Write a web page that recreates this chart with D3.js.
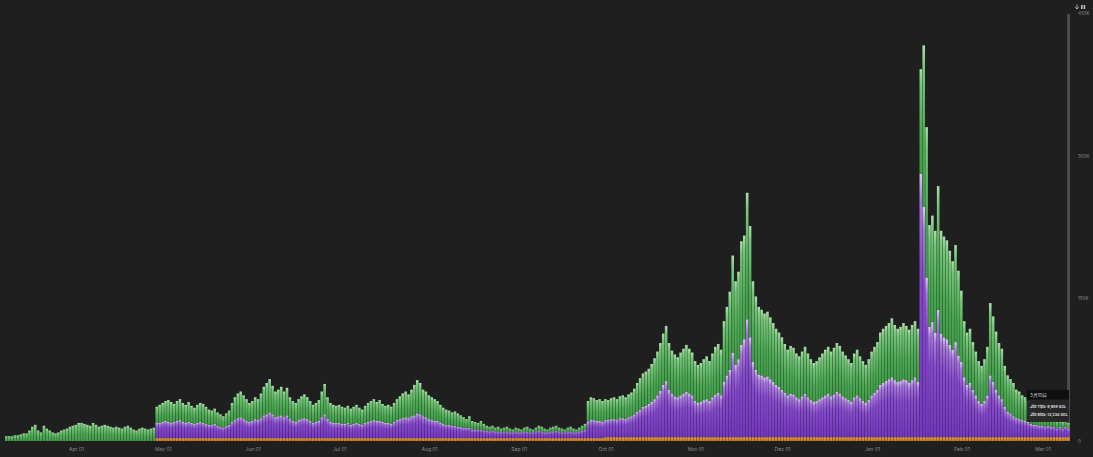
<!DOCTYPE html>
<html><head><meta charset="utf-8">
<script src="https://cdn.jsdelivr.net/npm/d3@7"></script>
<style>html,body{margin:0;padding:0;background:#1f1f1f;overflow:hidden}text{font-family:Inter,"Noto Sans",sans-serif}</style>
</head><body><svg id="c" width="1093" height="457"></svg>
<script>
const startDate = "2024-03-08";
const dayCount = 368;
const monthTicks = ["2024-04-01","2024-05-01","2024-06-01","2024-07-01","2024-08-01","2024-09-01","2024-10-01","2024-11-01","2024-12-01","2025-01-01","2025-02-01","2025-03-01"];
const yTicks = [0, 150, 300, 450];

// top layer (green)
const jitoTips = [
5,5,5,6,6,7,8,8,11,15,17,11,9,16,13,11,9,8,9,11,12,13,15,16,17,19,19,18,17,16,19,17,15,16,17,16,15,14,15,14,13,15,16,14,12,11,13,14,13,12,13,14,
17,
19,20,21,23,22,19,21,22,20,19,21,18,17,19,20,20,18,16,15,16,14,13,12,13,15,20,24,26,27,25,23,20,
21,23,22,26,30,33,35,30,27,28,30,27,29,23,21,20,22,24,25,23,21,19,20,22,27,32,23,20,19,18,
19,18,17,18,17,18,19,17,16,18,20,21,22,20,22,19,18,19,18,20,22,24,26,27,25,28,32,35,33,28,27,
25,24,23,21,19,17,16,15,14,15,14,12,11,9,12,9,8,7,9,7,5,5,5,4,5,4,4,5,4,3,4,
4,3,4,5,4,3,4,5,5,4,3,4,5,5,4,4,3,4,5,4,3,4,5,6,22,24,23,22,23,22,
22,21,22,23,22,23,24,23,24,25,27,30,33,35,36,37,40,43,46,50,54,58,49,45,44,42,45,47,49,47,45,
42,40,41,43,45,42,46,50,51,48,64,72,82,102,88,92,109,109,133,117,85,77,71,69,67,68,65,62,59,57,
55,51,48,50,49,46,45,47,49,46,43,41,42,44,46,48,49,47,49,51,50,47,45,43,41,46,48,44,42,40,43,
46,48,50,55,57,58,59,62,58,56,57,59,57,56,58,59,56,110,170,158,107,112,107,130,108,106,104,99,93,102,89,
75,59,55,57,50,46,42,40,44,51,76,69,61,55,53,43,38,36,35,30,29,26,25,22,18,15,13,13,
12,11,11,8,9,8,8,7,7,6
];
// middle layer (purple)
const priorityFees = [
0,0,0,0,0,0,0,0,0,0,0,0,0,
0,0,0,0,0,0,0,0,0,0,0,0,0,
0,0,0,0,0,0,0,0,0,0,0,0,0,
0,0,0,0,0,0,0,0,0,0,0,0,0,
16,
16,17,18,17,16,17,18,19,17,16,17,16,15,16,17,16,15,14,14,15,13,12,11,13,14,17,19,21,22,20,18,17,
18,20,19,21,24,25,27,25,22,23,24,22,24,20,18,17,19,20,21,20,18,16,17,18,22,25,20,17,16,16,
16,15,15,16,14,15,16,15,14,16,17,18,19,18,18,17,16,16,15,17,19,20,21,22,21,23,24,26,25,23,22,
20,19,18,18,16,15,14,14,13,13,12,12,11,11,11,9,9,9,9,8,8,7,8,7,7,6,7,7,6,6,7,
6,6,7,7,6,6,7,8,7,6,6,7,7,8,7,6,6,7,7,6,6,7,8,9,17,19,19,18,18,17,
18,18,19,19,18,20,20,19,21,22,24,27,29,32,33,35,37,40,44,49,55,59,50,46,43,42,44,46,48,46,44,
38,36,37,39,40,38,42,45,47,44,58,65,71,89,76,82,97,103,124,105,79,71,66,65,63,64,61,58,55,53,
50,47,44,46,45,42,40,43,46,42,39,37,38,40,42,44,46,43,45,48,46,43,41,39,37,42,44,41,38,36,39,
44,47,50,55,57,59,61,63,60,58,59,61,60,57,60,63,58,277,242,168,116,121,110,134,109,105,103,97,92,100,86,
79,63,55,57,50,44,38,35,38,44,65,58,50,44,40,32,27,25,22,20,19,18,17,16,14,13,13,12,
12,11,12,11,11,9,11,9,11,9
];
// bottom layer (orange)
const baseFees = [
0,0,0,0,0,0,0,0,0,0,0,0,0,
0,0,0,0,0,0,0,0,0,0,0,0,0,
0,0,0,0,0,0,0,0,0,0,0,0,0,
0,0,0,0,0,0,0,0,0,0,0,0,0,
3,3,3,3,3,3,3,3,3,3,
3,3,3,3,3,3,3,3,3,3,
3,3,3,3,3,3,3,3,3,3,
3,3,3,3,3,3,3,3,3,3,
3,3,3,3,3,3,3,3,3,3,
3,3,3,3,3,3,3,3,3,3,
3,3,3,3,3,3,3,3,3,3,
3,3,3,3,3,3,3,3,3,3,
3,3,3,3,3,3,3,3,3,3,
3,3,3,3,3,3,3,3,3,3,
3,3,3,3,3,3,3,3,3,3,
3,3,3,3,3,3,3,3,3,3,
3,3,3,3,3,3,3,3,3,3,
3,3,3,3,3,3,3,3,3,3,
3,3,3,3,3,3,3,3,3,3,
3,3,3,3,3,
4,4,4,4,4,4,4,4,4,4,
4,4,4,4,4,4,4,4,4,4,
4,4,4,4,4,4,4,4,4,4,
4,4,4,4,4,4,4,4,4,4,
4,4,4,4,4,4,4,4,4,4,
4,4,4,4,4,4,4,4,4,4,
4,4,4,4,4,4,4,4,4,4,
4,4,4,4,4,4,4,4,4,4,
4,4,4,4,4,4,4,4,4,4,
4,4,4,4,4,4,4,4,4,4,
4,4,4,4,4,4,4,4,4,4,
4,4,4,4,4,4,4,4,4,4,
4,4,4,4,4,4,4,4,4,4,
4,4,4,4,4,4,4,4,4,4,
4,4,4,4,4,4,4,4,4,4,
4,4,4,4,4,4,4,4,4,4,
4
];
const tooltipTitle = "3月10日";
const tooltipLines = ["Jito Tips: 9,908 SOL", "Jito Bids: 13,234 SOL"];

const svg = d3.select("#c");
const W = 1093, H = 457;
svg.append("rect").attr("width", W).attr("height", H).attr("fill", "#1f1f1f");

const parse = d3.utcParse("%Y-%m-%d");
const t0 = parse(startDate);
const t1 = d3.utcDay.offset(t0, dayCount);
const days = d3.utcDays(t0, t1);
const rows = days.map((d, i) => ({date: d, base: baseFees[i], prio: priorityFees[i], tips: jitoTips[i]}));

const x = d3.scaleUtc().domain([t0, t1]).range([5, 1070]);
const y = d3.scaleLinear().domain([0, 450]).range([441, 13]);

const defs = svg.append("defs");
function grad(id, stops) {
  const g = defs.append("linearGradient").attr("id", id).attr("x1", 0).attr("y1", 0).attr("x2", 0).attr("y2", 1);
  stops.forEach(s => g.append("stop").attr("offset", s[0]).attr("stop-color", s[1]));
}
grad("gTips", [["0", "#acdeac"], ["0.14", "#76c67a"], ["0.6", "#4caa53"], ["1", "#409d48"]]);
grad("gPrio", [["0", "#dac8f3"], ["0.1", "#a97ae0"], ["0.35", "#8649cf"], ["1", "#7536c2"]]);
grad("gBase", [["0", "#eea23a"], ["1", "#cc7c16"]]);

// hover band
const lastDay = days[days.length - 1];
svg.append("rect").attr("x", x(lastDay)).attr("y", 14)
  .attr("width", x(t1) - x(lastDay)).attr("height", 441 - 14).attr("fill", "#4b4b4b");

const keys = ["base", "prio", "tips"];
const fills = {base: "url(#gBase)", prio: "url(#gPrio)", tips: "url(#gTips)"};
const stacked = d3.stack().keys(keys)(rows);

const layers = svg.append("g").selectAll("g").data(stacked).join("g").attr("fill", d => fills[d.key]);
layers.selectAll("rect").data(d => d.filter(p => p[1] - p[0] > 0)).join("rect")
  .attr("x", p => x(p.data.date))
  .attr("width", p => Math.max(0.5, x(d3.utcDay.offset(p.data.date, 1)) - x(p.data.date) - 0.3))
  .attr("y", p => y(p[1]))
  .attr("height", p => y(p[0]) - y(p[1]));

// x axis
const xAxis = d3.axisBottom(x).tickValues(monthTicks.map(parse))
  .tickFormat(d3.utcFormat("%b %d")).tickSize(0).tickPadding(4);
const gx = svg.append("g").attr("transform", "translate(0,443)").call(xAxis);
gx.select(".domain").remove();
gx.selectAll("text").attr("fill", "#8c8c8c").style("font-size", "5px").attr("dx", "1.5");

// y axis
const yAxis = d3.axisRight(y).tickValues(yTicks).tickSize(0).tickPadding(0)
  .tickFormat(d => d === 0 ? "0" : d + "K");
const gy = svg.append("g").attr("transform", "translate(1078,0)").call(yAxis);
gy.select(".domain").remove();
gy.selectAll("text").attr("fill", "#8c8c8c").style("font-size", "4.5px");

// icons top-right
const ic = svg.append("g").attr("fill", "none").attr("stroke", "#bdbdbd").attr("stroke-width", 0.9);
ic.append("path").attr("d", "M1077,4.5 V9 M1075.3,7.3 L1077,9 L1078.7,7.3");
ic.append("rect").attr("x", 1081).attr("y", 5).attr("width", 1.6).attr("height", 4).attr("fill", "#bdbdbd").attr("stroke", "none");
ic.append("rect").attr("x", 1083.6).attr("y", 5).attr("width", 1.6).attr("height", 4).attr("fill", "#bdbdbd").attr("stroke", "none");

// tooltip
const tt = svg.append("g").attr("transform", "translate(1027,390)");
tt.append("rect").attr("width", 42).attr("height", 32).attr("fill", "#262626").attr("opacity", 0.95);
tt.append("rect").attr("width", 42).attr("height", 9.5).attr("fill", "#0f0f0f");
tt.append("text").attr("x", 3).attr("y", 6.6).attr("fill", "#dddddd").style("font-size", "4.5px").text(tooltipTitle);
tooltipLines.forEach((s, i) => {
  tt.append("text").attr("x", 3).attr("y", 17.5 + i * 8).attr("fill", "#e6e6e6")
    .style("font-size", "3.7px").style("font-weight", "600").text(s);
});
</script></body></html>
